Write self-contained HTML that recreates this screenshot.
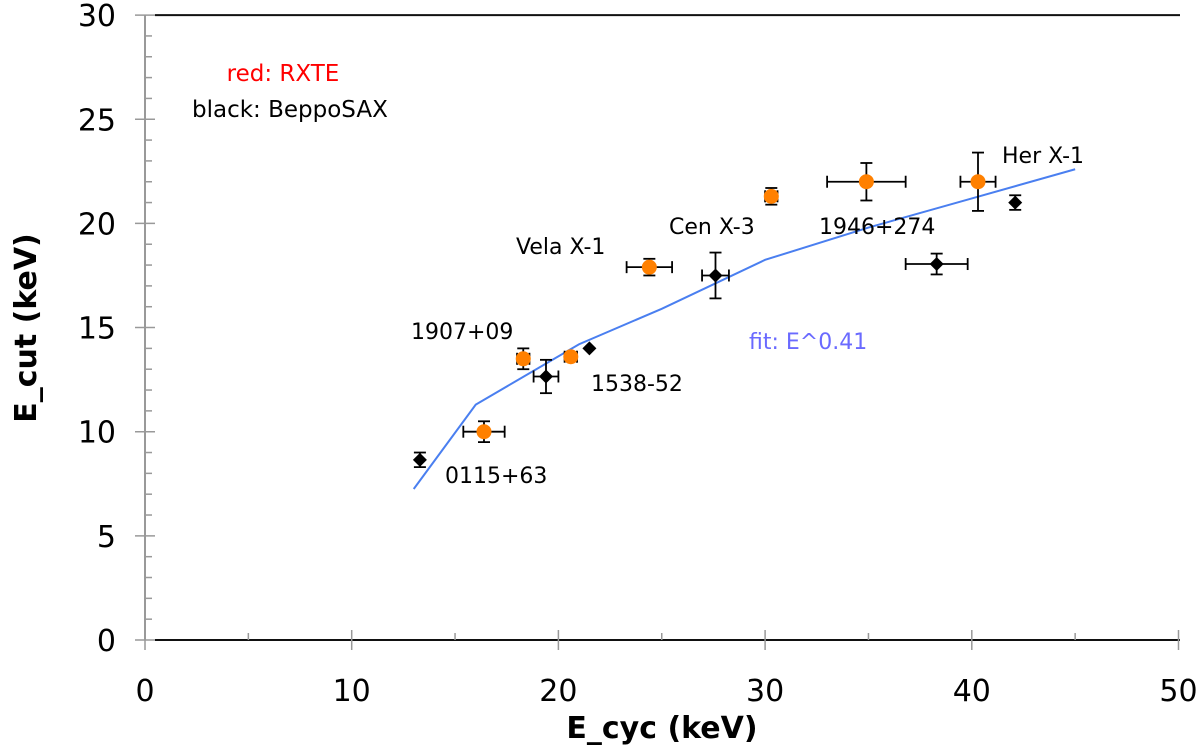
<!DOCTYPE html>
<html><head><meta charset="utf-8"><style>
body{margin:0;background:#fff}
svg{display:block;font-family:"DejaVu Sans","Liberation Sans",sans-serif}
</style></head><body>
<svg id="chart" width="1200" height="745" viewBox="0 0 1200 745">
<g id="axes"></g>
<g id="fit"></g>
<g id="marks"></g>
<g id="labels">
<text x="283" y="81" font-size="23" fill="#ff0000" text-anchor="middle">red: RXTE</text>
<text x="192" y="117" font-size="23" fill="#000">black: BeppoSAX</text>
<text x="516" y="254" font-size="22">Vela X-1</text>
<text x="669" y="234" font-size="22">Cen X-3</text>
<text x="819" y="234" font-size="22">1946+274</text>
<text x="1002" y="163" font-size="22">Her X-1</text>
<text x="411" y="339" font-size="22">1907+09</text>
<text x="591" y="391" font-size="22">1538-52</text>
<text x="445" y="483" font-size="22">0115+63</text>
<text x="749" y="349" font-size="22" fill="#6a6aff">fit: E^0.41</text>
</g>
</svg>
<script>
const xTicks=[0,10,20,30,40,50];
const yTicks=[0,5,10,15,20,25,30];
const rxteX=[16.4,18.3,20.6,24.4,30.3,34.9,40.3];
const rxteY=[10.0,13.5,13.6,17.9,21.3,22.0,22.0];
const rxteXerr=[1.0,0.3,0.3,1.1,0.3,1.9,0.85];
const rxteYerr=[0.5,0.5,0.2,0.4,0.4,0.9,1.4];
const saxX=[13.3,19.4,21.5,27.6,38.3,42.1];
const saxY=[8.65,12.65,14.0,17.5,18.05,21.0];
const saxXerr=[0,0.6,0,0.65,1.5,0];
const saxYerr=[0.35,0.8,0,1.1,0.5,0.35];
const fitX=[13,16,21,25,30,35,40,45];
const fitY=[7.25,11.3,14.2,15.9,18.25,19.8,21.2,22.6];
const NS='http://www.w3.org/2000/svg';
const sx=v=>145+v*20.67, sy=v=>640-v*20.83;
function mk(p,t,a){const e=document.createElementNS(NS,t);for(const k in a)e.setAttribute(k,a[k]);p.appendChild(e);return e;}
const ax=document.getElementById('axes');
let e=mk(ax,'line',{x1:155,y1:sy(30),x2:1180,y2:sy(30),stroke:'#111','stroke-width':2});

e=mk(ax,'line',{x1:145,y1:sy(30),x2:145,y2:640,stroke:'#999','stroke-width':2});

e=mk(ax,'line',{x1:155,y1:640,x2:1180,y2:640,stroke:'#111','stroke-width':2});

for(let v=0;v<=30;v++){const y=sy(v);const maj=v%5==0;
 e=mk(ax,'line',{x1:maj?135:145,y1:y,x2:maj?155:152,y2:y,stroke:'#999','stroke-width':1.5});
 }
yTicks.forEach(v=>{e=mk(ax,'text',{x:116,y:sy(v)+11,'font-size':30,'text-anchor':'end'});e.textContent=v;
 });
for(let v=0;v<=50;v+=5){const x=sx(v);const maj=v%10==0;
 e=mk(ax,'line',{x1:x,y1:maj?650:640,x2:x,y2:maj?630:633,stroke:'#999','stroke-width':1.5});
 }
xTicks.forEach(v=>{e=mk(ax,'text',{x:sx(v),y:701,'font-size':30,'text-anchor':'middle'});e.textContent=v;
 });
e=mk(ax,'text',{x:662,y:738,'font-size':30,'font-weight':'bold','text-anchor':'middle'});e.textContent='E_cyc (keV)';

e=mk(ax,'text',{x:0,y:0,'font-size':30,'font-weight':'bold','text-anchor':'middle',transform:'translate(36,328) rotate(-90)'});e.textContent='E_cut (keV)';

e=mk(document.getElementById('fit'),'polyline',{points:fitX.map((x,i)=>sx(x)+','+sy(fitY[i])).join(' '),fill:'none',stroke:'#4a7ff0','stroke-width':2});

const mg=document.getElementById('marks');
function err(g,x,y,xe,ye){
 if(xe>0){mk(g,'line',{x1:sx(x-xe),y1:sy(y),x2:sx(x+xe),y2:sy(y),stroke:'#000','stroke-width':1.8});
  [x-xe,x+xe].forEach(v=>mk(g,'line',{x1:sx(v),y1:sy(y)-6,x2:sx(v),y2:sy(y)+6,stroke:'#000','stroke-width':1.8}));}
 if(ye>0){mk(g,'line',{x1:sx(x),y1:sy(y-ye),x2:sx(x),y2:sy(y+ye),stroke:'#000','stroke-width':1.8});
  [y-ye,y+ye].forEach(v=>mk(g,'line',{x1:sx(x)-6,y1:sy(v),x2:sx(x)+6,y2:sy(v),stroke:'#000','stroke-width':1.8}));}
}
saxX.forEach((x,i)=>{const g=mk(mg,'g',{});
 
 err(g,x,saxY[i],saxXerr[i],saxYerr[i]);const cx=sx(x),cy=sy(saxY[i]);
 mk(g,'polygon',{points:`${cx},${cy-7} ${cx+7},${cy} ${cx},${cy+7} ${cx-7},${cy}`,fill:'#000'});});
rxteX.forEach((x,i)=>{const g=mk(mg,'g',{});
 
 err(g,x,rxteY[i],rxteXerr[i],rxteYerr[i]);
 mk(g,'circle',{cx:sx(x),cy:sy(rxteY[i]),r:7.5,fill:'#ff8000'});});
</script>
</body></html>
